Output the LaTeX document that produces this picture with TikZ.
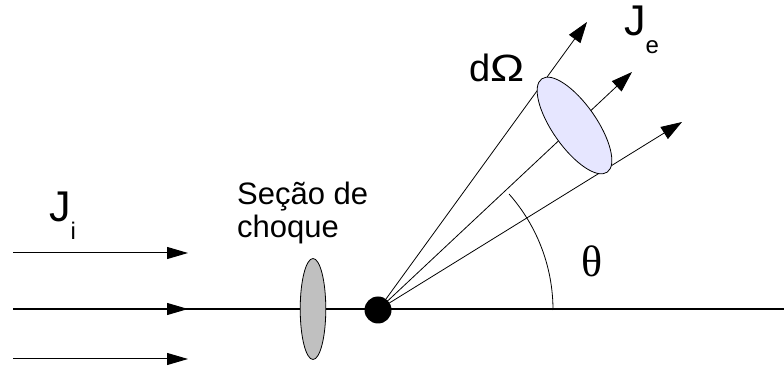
\documentclass[tikz,border=0pt]{standalone}
\usepackage{fontspec}
\setmainfont{Liberation Sans}
\newfontfamily\thetafont{Liberation Serif}
\usetikzlibrary{shapes.geometric, arrows.meta, positioning, calc}
\definecolor{section_grey}{HTML}{C0C0C0}
\definecolor{solid_blue}{HTML}{E6E6FF}
\newcommand{\lowsub}[1]{\raisebox{-18pt}{\fontsize{24}{24}\selectfont #1}}
\tikzset{
    beam_arrow/.style={
        -{Triangle[length=21pt, width=12pt]}, line width=1pt, draw=black
    },
    ray_arrow/.style={
        -{Triangle[length=21pt, width=14pt]}, line width=0.8pt, draw=black
    },
    beam_line/.style={line width=1.1pt, draw=black},
    cross_ellipse/.style={
        ellipse, draw=black, line width=0.8pt, fill=section_grey,
        minimum width=25.6pt, minimum height=101pt, inner sep=0pt
    },
    angle_ellipse/.style={
        ellipse, draw=black, line width=0.8pt, fill=solid_blue,
        minimum width=114pt, minimum height=44pt, inner sep=0pt
    },
    target_dot/.style={
        circle, fill=black, minimum size=27pt, inner sep=0pt
    },
    lbl_big/.style={font=\fontsize{43}{43}\selectfont, inner sep=0pt},
    lbl_text/.style={font=\fontsize{31}{33}\selectfont, align=left, inner sep=0pt}
}

\begin{document}
\begin{tikzpicture}[x=1pt, y=1pt, >=Stealth]
    \useasboundingbox (0,0) rectangle (784,369);

    % Incident beam
    \coordinate (beam_top_in) at (13,116);
    \coordinate (beam_top_out) at (188,116);
    \coordinate (beam_mid_in) at (13,60);
    \coordinate (beam_mid_out) at (188,60);
    \coordinate (beam_bot_in) at (13,10);
    \coordinate (beam_bot_out) at (188,10);
    \coordinate (axis_end) at (784,60);
    \node[target_dot] (target) at (378,59) {};

    \draw[beam_arrow] (beam_top_in) -- (beam_top_out);
    \draw[beam_line] (beam_mid_in) -- (axis_end);
    \draw[beam_arrow] (beam_mid_in) -- (beam_mid_out);
    \draw[beam_arrow] (beam_bot_in) -- (beam_bot_out);

    % Scattered rays
    \coordinate (ray_a) at (587,347);
    \coordinate (ray_b) at (632,297);
    \coordinate (ray_c) at (682,247);
    \draw[ray_arrow] (target.center) -- (ray_a);
    \draw[ray_arrow] (target.center) -- (ray_b);
    \draw[ray_arrow] (target.center) -- (ray_c);

    % Angle
    \draw[line width=0.8pt] ([shift={(0:175)}]target.center) arc[start angle=0, end angle=41.5, radius=175];

    % Ellipses
    \node[cross_ellipse] (section) at (313,60) {};
    \node[angle_ellipse, rotate=-55] (solid) at (574.5,243.5) {};

    % Labels
    \node[lbl_big, anchor=base west] (j_in) at (49,147) {J\lowsub{i}};
    \node[lbl_big, anchor=base west] (j_out) at (624,333) {J\lowsub{e}};
    \node[lbl_big, font=\fontsize{38}{38}\selectfont, anchor=base west] (omega) at (469,287.5) {d\scalebox{1.2}[1]{Ω}};
    \node[lbl_big, font=\thetafont\fontsize{44}{44}\selectfont] (theta) at (592,108) {θ};
    \node[lbl_text, anchor=north west] (section_lbl) at (237,187) {Seção de\\choque};
\end{tikzpicture}
\end{document}
